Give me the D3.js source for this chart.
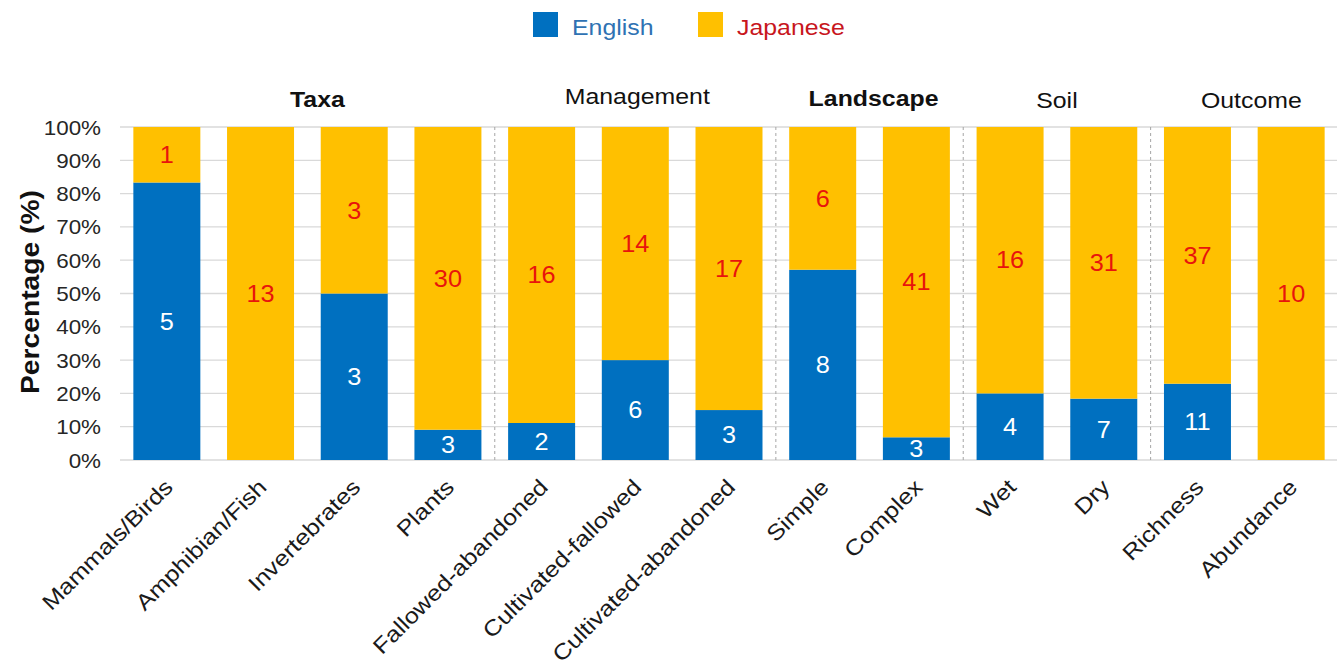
<!DOCTYPE html>
<html>
<head>
<meta charset="utf-8">
<script src="https://cdn.jsdelivr.net/npm/d3@7"></script>
<style>
  html, body { margin: 0; padding: 0; background: #fff; }
  svg { display: block; font-family: "Liberation Sans", Arial, sans-serif; }
</style>
</head>
<body>
<svg id="chart" width="1337" height="667"></svg>
<script>
// Study counts per category, by publication language
const categories = [
  "Mammals/Birds", "Amphibian/Fish", "Invertebrates", "Plants",
  "Fallowed-abandoned", "Cultivated-fallowed", "Cultivated-abandoned",
  "Simple", "Complex", "Wet", "Dry", "Richness", "Abundance"
];
const english  = [5, 0, 3, 3, 2, 6, 3, 8, 3, 4, 7, 11, 0];
const japanese = [1, 13, 3, 30, 16, 14, 17, 6, 41, 16, 31, 37, 10];
const seriesNames = ["English", "Japanese"];

// Category groups shown above the bars (number of bars in each)
const groupNames = ["Taxa", "Management", "Landscape", "Soil", "Outcome"];
const groupSizes = [4, 3, 2, 2, 2];

const yTicks = [0, 10, 20, 30, 40, 50, 60, 70, 80, 90, 100];

// ---- styling ----
const colors = { English: "#0070C0", Japanese: "#FFC000" };
const labelColors = { English: "#ffffff", Japanese: "#E8140C" };
const legendTextColors = { English: "#2F72B3", Japanese: "#C8161D" };
const boldGroups = new Set(["Taxa", "Landscape"]);
const titleShift = { Taxa: [10, 0], Management: [2, -3], Landscape: [4, -1], Soil: [0, 1], Outcome: [7, 1] };

const svg = d3.select("#chart");

const x = d3.scaleBand()
  .domain(categories)
  .range([120, 1338])
  .paddingInner(0.285)
  .paddingOuter(0.1425);

const y = d3.scaleLinear().domain([0, 100]).range([460, 127]);

// rows of percentages for stacking
const rows = categories.map((c, i) => {
  const total = english[i] + japanese[i];
  return {
    category: c,
    English: english[i] / total * 100,
    Japanese: japanese[i] / total * 100,
    nEnglish: english[i],
    nJapanese: japanese[i]
  };
});

const stacked = d3.stack().keys(seriesNames)(rows);

// helper: place text with a slight horizontal widening of the glyphs
function place(sel, tx, ty, sx, rot) {
  sel.attr("transform", (d, i) => {
    const X = typeof tx === "function" ? tx(d, i) : tx;
    const Y = typeof ty === "function" ? ty(d, i) : ty;
    return `translate(${X},${Y})` + (rot ? ` rotate(${rot})` : "") + ` scale(${sx},1)`;
  });
  return sel;
}

// ---- gridlines ----
const yAxis = d3.axisLeft(y).tickValues(yTicks).tickSize(0).tickFormat(d => d + "%");
svg.append("g")
  .selectAll("line")
  .data(yTicks)
  .join("line")
  .attr("x1", 120).attr("x2", 1337)
  .attr("y1", d => y(d)).attr("y2", d => y(d))
  .attr("stroke", "#d9d9d9")
  .attr("stroke-width", 1.3);

// ---- y axis labels ----
const gy = svg.append("g").attr("transform", "translate(101,0)").call(yAxis);
gy.select(".domain").remove();
gy.selectAll(".tick text")
  .attr("x", 0)
  .attr("dy", "0.35em")
  .attr("font-size", 20)
  .attr("fill", "#262626")
  .attr("text-anchor", "end")
  .attr("transform", "scale(1.12,1)");

// ---- group separators (dashed) ----
let idx = 0;
const boundaries = [];
const groupCenters = [];
groupSizes.forEach((n, g) => {
  const first = categories[idx], last = categories[idx + n - 1];
  groupCenters.push((x(first) + x(last) + x.bandwidth()) / 2);
  idx += n;
  if (g < groupSizes.length - 1) {
    const next = categories[idx];
    boundaries.push((x(last) + x.bandwidth() + x(next)) / 2);
  }
});

svg.append("g")
  .selectAll("line")
  .data(boundaries)
  .join("line")
  .attr("x1", d => d).attr("x2", d => d)
  .attr("y1", y(100)).attr("y2", y(0))
  .attr("stroke", "#a6a6a6")
  .attr("stroke-width", 1)
  .attr("stroke-dasharray", "3,3");

// ---- stacked bars ----
const layers = svg.append("g")
  .selectAll("g")
  .data(stacked)
  .join("g")
  .attr("fill", d => colors[d.key]);

layers.selectAll("rect")
  .data(d => d.map(v => ({ key: d.key, v })))
  .join("rect")
  .attr("x", d => x(d.v.data.category))
  .attr("width", x.bandwidth())
  .attr("y", d => y(d.v[1]))
  .attr("height", d => y(d.v[0]) - y(d.v[1]));

// ---- value labels (counts) ----
const labelData = [];
stacked.forEach(layer => {
  layer.forEach(v => {
    const n = v.data["n" + layer.key];
    if (n > 0) labelData.push({ key: layer.key, v, n });
  });
});

const vlabels = svg.append("g")
  .selectAll("text")
  .data(labelData)
  .join("text")
  .attr("text-anchor", "middle")
  .attr("dy", "0.36em")
  .attr("font-size", 23)
  .attr("fill", d => labelColors[d.key])
  .text(d => d.n);
place(vlabels,
  d => x(d.v.data.category) + x.bandwidth() / 2,
  d => y((d.v[0] + d.v[1]) / 2),
  1.1);

// ---- x axis category labels (rotated) ----
const xl = svg.append("g")
  .selectAll("text")
  .data(categories)
  .join("text")
  .attr("text-anchor", "end")
  .attr("dy", "0.35em")
  .attr("font-size", 22)
  .attr("fill", "#1a1a1a")
  .text(d => d);
place(xl, d => x(d) + x.bandwidth() / 2 + 2, 483, 1.15, -45);

// ---- group titles ----
const gt = svg.append("g")
  .selectAll("text")
  .data(groupNames)
  .join("text")
  .attr("text-anchor", "middle")
  .attr("font-size", 22)
  .attr("font-weight", d => boldGroups.has(d) ? "bold" : "normal")
  .attr("fill", "#111")
  .text(d => d);
place(gt,
  (d, i) => groupCenters[i] + titleShift[d][0],
  (d, i) => 107 + titleShift[d][1],
  1.13);

// ---- y axis title ----
const yt = svg.append("text")
  .attr("text-anchor", "middle")
  .attr("font-size", 25)
  .attr("font-weight", "bold")
  .attr("fill", "#111")
  .text("Percentage (%)");
place(yt, 39, 292, 1.13, -90);

// ---- legend ----
const legendPos = [533, 698];
const lg = svg.append("g")
  .selectAll("g")
  .data(seriesNames)
  .join("g")
  .attr("transform", (d, i) => `translate(${legendPos[i]},12)`);
lg.append("rect")
  .attr("width", 25).attr("height", 25)
  .attr("fill", d => colors[d]);
lg.append("text")
  .attr("transform", "translate(39,23) scale(1.13,1)")
  .attr("font-size", 22)
  .attr("fill", d => legendTextColors[d])
  .text(d => d);
</script>
</body>
</html>
